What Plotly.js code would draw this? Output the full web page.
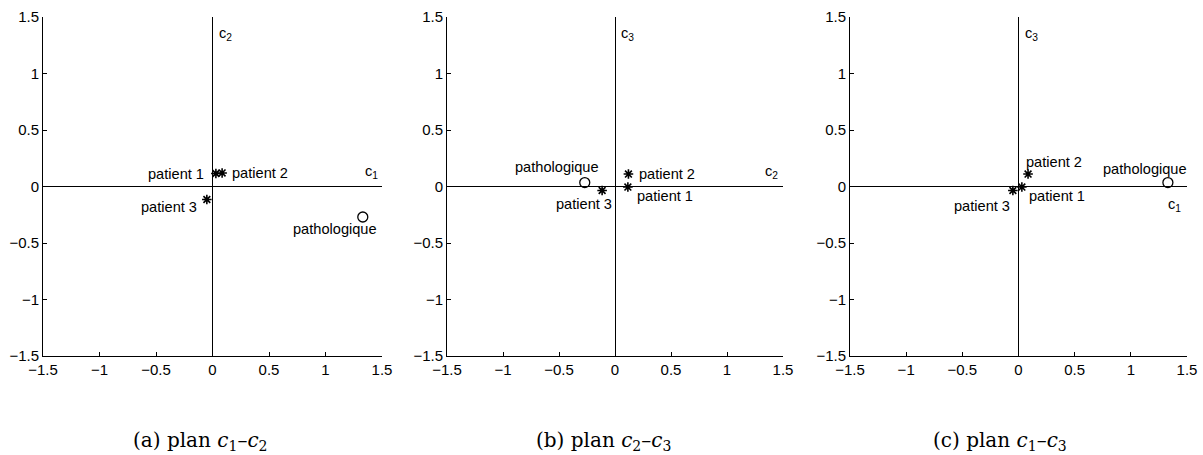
<!DOCTYPE html>
<html>
<head>
<meta charset="utf-8">
<script src="https://cdn.plot.ly/plotly-3.0.1.min.js"></script>
<style>html,body{margin:0;padding:0;background:#fff;}#chart{width:1203px;height:455px;}</style>
</head>
<body>
<div id="chart"></div>
<script>
// Data: coordinates of each individual on the three components
const names = ["patient 1", "patient 2", "patient 3"];
const c1 = [0.03, 0.085, -0.05];
const c2 = [0.115, 0.12, -0.115];
const c3 = [-0.005, 0.11, -0.035];
const pathoName = "pathologique";
const pathoC1 = 1.33;
const pathoC2 = -0.27;
const pathoC3 = 0.035;
const tickVals = [-1.5, -1, -0.5, 0, 0.5, 1, 1.5];
const captions = ["(a) plan <i>c</i><sub>1</sub>–<i>c</i><sub>2</sub>", "(b) plan <i>c</i><sub>2</sub>–<i>c</i><sub>3</sub>", "(c) plan <i>c</i><sub>1</sub>–<i>c</i><sub>3</sub>"];

const W = 1203, H = 455;
const font = {family: "Liberation Sans, Arial, sans-serif", size: 14.6, color: "#000"};

function starTrace(x, y, xa, ya) {
  return {x: x, y: y, xaxis: xa, yaxis: ya, type: "scatter", mode: "markers",
    marker: {symbol: "asterisk-open", size: 8, color: "#000", line: {color: "#000", width: 1.6}},
    showlegend: false, hoverinfo: "skip", cliponaxis: false};
}
function circTrace(x, y, xa, ya) {
  return {x: [x], y: [y], xaxis: xa, yaxis: ya, type: "scatter", mode: "markers",
    marker: {symbol: "circle-open", size: 10, color: "#000", line: {color: "#000", width: 1.3}},
    showlegend: false, hoverinfo: "skip", cliponaxis: false};
}

const data = [
  starTrace(c1, c2, "x", "y"), circTrace(pathoC1, pathoC2, "x", "y"),
  starTrace(c2, c3, "x2", "y2"), circTrace(pathoC2, pathoC3, "x2", "y2"),
  starTrace(c1, c3, "x3", "y3"), circTrace(pathoC1, pathoC3, "x3", "y3")
];

function axis(domain, anchor) {
  return {domain: domain, anchor: anchor, range: [-1.5, 1.5], tickvals: tickVals,
    ticktext: tickVals.map(v => v === 0 ? "0" : String(v).replace("-", "\u2212")),
    showgrid: false, zeroline: true, zerolinecolor: "#000", zerolinewidth: 1,
    showline: true, linecolor: "#000", linewidth: 1, mirror: false,
    ticks: "inside", ticklen: 4, tickcolor: "#000", tickwidth: 1,
    tickfont: {family: font.family, size: 15, color: "#000"}, fixedrange: true};
}
const yd = [1 - 356 / H, 1 - 17 / H];
const layout = {
  width: W, height: H, margin: {l: 0, r: 0, t: 0, b: 0},
  paper_bgcolor: "#fff", plot_bgcolor: "#fff", showlegend: false, font: font,
  xaxis: axis([43 / W, 382 / W], "y"), yaxis: axis(yd, "x"),
  xaxis2: axis([447 / W, 783 / W], "y2"), yaxis2: axis(yd, "x2"),
  xaxis3: axis([850 / W, 1187 / W], "y3"), yaxis3: axis(yd, "x3"),
  annotations: []
};
function ann(xr, yr, x, y, text, xanchor, yanchor) {
  layout.annotations.push({xref: xr, yref: yr, x: x, y: y, text: text, showarrow: false,
    xanchor: xanchor || "center", yanchor: yanchor || "middle", font: font});
}
// Panel (a)
ann("x", "y", c1[0] - 0.09, c2[0], names[0], "right");
ann("x", "y", c1[1] + 0.07, c2[1], names[1], "left");
ann("x", "y", c1[2] - 0.07, c2[2] - 0.07, names[2], "right");
ann("x", "y", pathoC1 - 0.25, pathoC2 - 0.11, pathoName, "center");
ann("x", "y", 1.41, 0.13, "c<sub>1</sub>", "center");
ann("x", "y", 0.04, 1.35, "c<sub>2</sub>", "left");
// Panel (b)
ann("x2", "y2", pathoC2 - 0.25, pathoC3 + 0.14, pathoName, "center");
ann("x2", "y2", c2[2] - 0.16, c3[2] - 0.12, names[2], "center");
ann("x2", "y2", c2[0] + 0.06, c3[0] - 0.08, names[0], "left");
ann("x2", "y2", c2[1] + 0.08, c3[1], names[1], "left");
ann("x2", "y2", 1.40, 0.13, "c<sub>2</sub>", "center");
ann("x2", "y2", 0.04, 1.35, "c<sub>3</sub>", "left");
// Panel (c)
ann("x3", "y3", c1[1] + 0.23, c3[1] + 0.11, names[1], "center");
ann("x3", "y3", pathoC1 - 0.2, pathoC3 + 0.12, pathoName, "center");
ann("x3", "y3", c1[0] + 0.05, c3[0] - 0.075, names[0], "left");
ann("x3", "y3", c1[2] - 0.01, c3[2] - 0.14, names[2], "right");
ann("x3", "y3", 1.39, -0.16, "c<sub>1</sub>", "center");
ann("x3", "y3", 0.04, 1.35, "c<sub>3</sub>", "left");
// Captions
const capX = [200 / W, 603 / W, 1000 / W];
captions.forEach((t, i) => {
  layout.annotations.push({xref: "paper", yref: "paper", x: capX[i], y: 1 - 441 / H, text: t,
    showarrow: false, xanchor: "center", yanchor: "middle",
    font: {family: "DejaVu Serif, Liberation Serif, serif", size: 20, color: "#000"}});
});
Plotly.newPlot("chart", data, layout, {displayModeBar: false});
</script>
</body>
</html>
